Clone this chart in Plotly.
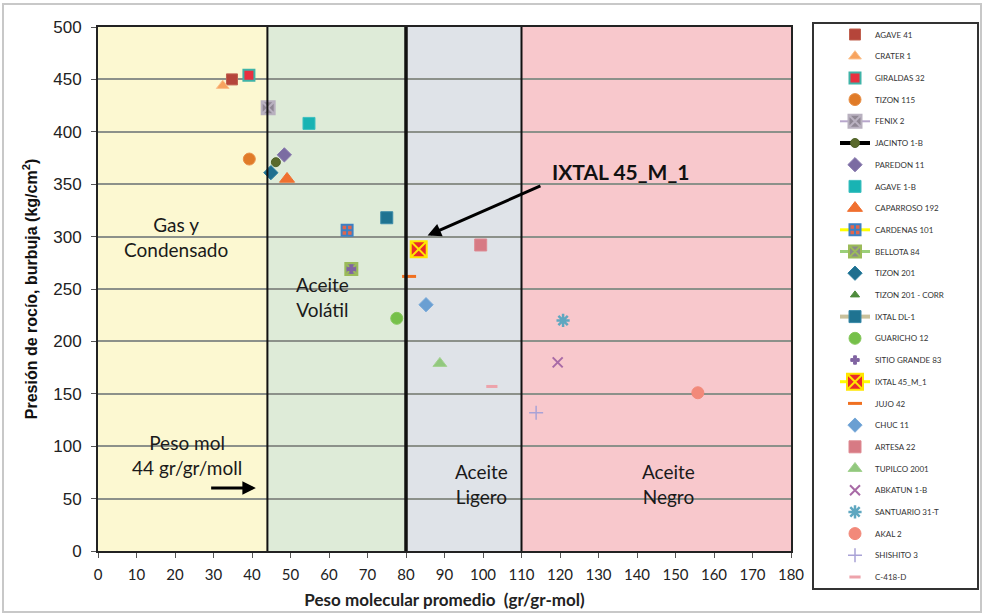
import plotly.graph_objects as go

# Molecular weight vs. dew/bubble pressure for each well
wells = ["AGAVE 41", "CRATER 1", "GIRALDAS 32", "TIZON 115", "FENIX 2", "JACINTO 1-B",
         "PAREDON 11", "AGAVE 1-B", "CAPARROSO 192", "CARDENAS 101", "BELLOTA 84",
         "TIZON 201", "TIZON 201 - CORR", "IXTAL DL-1", "GUARICHO 12", "SITIO GRANDE 83",
         "IXTAL 45_M_1", "JUJO 42", "CHUC 11", "ARTESA 22", "TUPILCO 2001", "ABKATUN 1-B",
         "SANTUARIO 31-T", "AKAL 2", "SHISHITO 3", "C-418-D"]
peso_mol = [34.8, 32.4, 39.2, 39.3, 44.2, 46.2, 48.4, 54.8, 49.1, 64.7, 65.8,
            44.9, 49.1, 75.0, 77.6, 65.8, 83.3, 80.8, 85.2, 99.4, 88.8, 119.4,
            120.8, 155.8, 113.8, 102.3]
presion = [450, 444, 454, 374, 423, 371, 378, 408, 355, 306, 269,
           361, 355, 318, 222, 269, 288, 262, 235, 292, 179, 180,
           220, 151, 132, 157]

# Fluid-type regions along the molecular weight axis
region_edges = [0, 44, 80, 110, 180]
region_names = ["Gas y<br>Condensado", "Aceite<br>Volátil", "Aceite<br>Ligero", "Aceite<br>Negro"]
region_colors = ["#fcf8d1", "#deebd8", "#dfe3e8", "#f8c8cc"]

x_ticks = list(range(0, 181, 10))
y_ticks = list(range(0, 501, 50))

# marker style per well: (symbol, size, fill, outline, outline width, legend line colour, line width)
styles = {
    "AGAVE 41": ("square", 11, "#b5453a", "#c0604f", 1, None, 0),
    "CRATER 1": ("triangle-up", 11, "#f7a35e", "#fbc08a", 1, None, 0),
    "GIRALDAS 32": ("square", 11, "#e8303f", "#3fb3a8", 2, None, 0),
    "TIZON 115": ("circle", 12, "#e07b28", "#e89048", 1, None, 0),
    "FENIX 2": ("square-x", 13, "#8f8794", "#b9b1c0", 2, "#b8a7cc", 2),
    "JACINTO 1-B": ("circle", 9, "#5a6a2c", "#4f6228", 1, "#000000", 4),
    "PAREDON 11": ("diamond", 11, "#7b6ca2", "#8a7bb0", 1, None, 0),
    "AGAVE 1-B": ("square", 12, "#19b3b3", "#3fc0c0", 1, None, 0),
    "CAPARROSO 192": ("triangle-up", 13, "#f07030", "#f07030", 1, None, 0),
    "CARDENAS 101": ("square-cross", 11, "#e0664e", "#3d80c4", 2, "#ffff00", 3),
    "BELLOTA 84": ("square-x", 12, "#8a8a8a", "#9bbb59", 2, "#9bcf7a", 3),
    "TIZON 201": ("diamond", 11, "#1f6f8f", "#2a7fa0", 1, None, 0),
    "TIZON 201 - CORR": ("triangle-up", 8, "#4e8a3c", "#4e8a3c", 1, None, 0),
    "IXTAL DL-1": ("square", 12, "#1f7391", "#3a8aa8", 1, "#c9c19c", 4),
    "GUARICHO 12": ("circle", 12, "#76c04a", "#86c85c", 1, None, 0),
    "SITIO GRANDE 83": ("cross", 7, "#8064a2", "#8064a2", 1, None, 0),
    "IXTAL 45_M_1": ("square-x", 16, "#ea2a2a", "#ffe600", 2, "#ffff00", 3),
    "JUJO 42": ("line-ew", 10, "#f07020", "#f07020", 3, None, 0),
    "CHUC 11": ("diamond", 11, "#6a9fd2", "#7aaada", 1, None, 0),
    "ARTESA 22": ("square", 12, "#d77a84", "#de8a92", 1, None, 0),
    "TUPILCO 2001": ("triangle-up", 12, "#92c87e", "#a3d290", 1, None, 0),
    "ABKATUN 1-B": ("x-thin", 10, "#a86aa6", "#a86aa6", 2, None, 0),
    "SANTUARIO 31-T": ("asterisk", 11, "#5fa7c0", "#5fa7c0", 2.5, None, 0),
    "AKAL 2": ("circle", 12, "#f2897a", "#f2897a", 1, None, 0),
    "SHISHITO 3": ("cross-thin", 10, "#a9a2d6", "#a9a2d6", 1.5, None, 0),
    "C-418-D": ("line-ew", 8, "#eda3ab", "#eda3ab", 3, None, 0),
}

# the hidden corrected point sits underneath CAPARROSO 192
draw_order = list(range(len(wells)))
draw_order.remove(wells.index("TIZON 201 - CORR"))
draw_order.insert(0, wells.index("TIZON 201 - CORR"))

fig = go.Figure()
for i in draw_order:
    name = wells[i]
    sym, size, fill, outline, ow, lcol, lw = styles[name]
    fig.add_trace(go.Scatter(
        x=[peso_mol[i]], y=[presion[i]], name=name,
        mode="lines+markers" if lcol else "markers",
        marker=dict(symbol=sym, size=size, color=fill, line=dict(color=outline, width=ow)),
        line=dict(color=lcol, width=lw) if lcol else None,
        legendgroup=name, legendrank=i + 1,
    ))

shapes = []
for k in range(len(region_colors)):
    shapes.append(dict(type="rect", xref="x", yref="y", x0=region_edges[k], x1=region_edges[k + 1],
                       y0=0, y1=500, fillcolor=region_colors[k], line_width=0, layer="below"))
# region boundaries
for xb, w in [(44, 2), (80, 3.5), (110, 2)]:
    shapes.append(dict(type="line", xref="x", yref="y", x0=xb, x1=xb, y0=0, y1=500,
                       line=dict(color="#111111", width=w), layer="above"))
# legend frame and outer frame
px_x = lambda p: (p - 98) / 693
px_y = lambda p: (551 - p) / 524
shapes.append(dict(type="rect", xref="paper", yref="paper", x0=px_x(813), x1=px_x(978),
                   y0=px_y(589), y1=px_y(23), line=dict(color="#333333", width=2)))
shapes.append(dict(type="rect", xref="paper", yref="paper", x0=px_x(3), x1=px_x(981),
                   y0=px_y(612), y1=px_y(4), line=dict(color="#c8c8c8", width=2)))

text_font = dict(family="Lato, Open Sans, sans-serif", size=19, color="#1a1a1a")
annotations = [
    dict(x=20.2, y=300, text=region_names[0], showarrow=False, font=text_font),
    dict(x=58.2, y=242, text=region_names[1], showarrow=False, font=text_font),
    dict(x=99.6, y=64, text=region_names[2], showarrow=False, font=text_font),
    dict(x=148.2, y=64, text=region_names[3], showarrow=False, font=text_font),
    dict(x=23.2, y=92, text="Peso mol<br>44 gr/gr/moll", showarrow=False, font=text_font),
    dict(x=41.0, y=60, ax=29.0, ay=60, axref="x", ayref="y", text="", showarrow=True,
         arrowhead=2, arrowsize=0.9, arrowwidth=3, arrowcolor="#000000"),
    dict(x=135.8, y=362, text="<b>IXTAL 45_M_1</b>", showarrow=False,
         font=dict(family="Lato, Open Sans, sans-serif", size=21, color="#111111")),
    dict(x=85.6, y=301, ax=115.3, ay=349, axref="x", ayref="y", text="", showarrow=True,
         arrowhead=2, arrowsize=0.9, arrowwidth=3, arrowcolor="#000000"),
]

fig.update_layout(
    width=984, height=615,
    margin=dict(l=98, r=193, t=27, b=64),
    paper_bgcolor="#ffffff", plot_bgcolor="#ffffff",
    shapes=shapes, annotations=annotations,
    showlegend=True,
    legend=dict(x=px_x(835), y=px_y(20), xanchor="left", yanchor="top",
                bgcolor="rgba(0,0,0,0)", borderwidth=0, tracegroupgap=2.7,
                itemwidth=30, traceorder="grouped", maxheight=600,
                font=dict(family="Lato, Open Sans, sans-serif", size=8, color="#333333")),
    xaxis=dict(range=[0, 180], tickvals=x_ticks, showgrid=False, zeroline=False, automargin=False,
               showline=True, linecolor="#222222", linewidth=2, mirror=True,
               ticks="outside", ticklen=5, tickcolor="#555555", ticklabelstandoff=4,
               tickfont=dict(family="Lato, Open Sans, sans-serif", size=15, color="#222222"),
               title=dict(text="<b>Peso molecular promedio  (gr/gr-mol)</b>", standoff=12,
                          font=dict(family="Lato, Open Sans, sans-serif", size=17, color="#222222"))),
    yaxis=dict(range=[0, 500], tickvals=y_ticks, showgrid=True, gridcolor="#8c918a", gridwidth=1.5,
               zeroline=False, showline=True, linecolor="#222222", linewidth=2, mirror=True,
               automargin=False,
               ticks="outside", ticklen=5, tickcolor="#555555", ticklabelstandoff=6,
               tickfont=dict(family="Liberation Sans, Arial, sans-serif", size=17, color="#222222"),
               title=dict(text="<b>Presión de rocío, burbuja (kg/cm<sup>2</sup>)</b>", standoff=12,
                          font=dict(family="Liberation Sans, Arial, sans-serif", size=16, color="#111111"))),
)

fig.write_html("out.html")
